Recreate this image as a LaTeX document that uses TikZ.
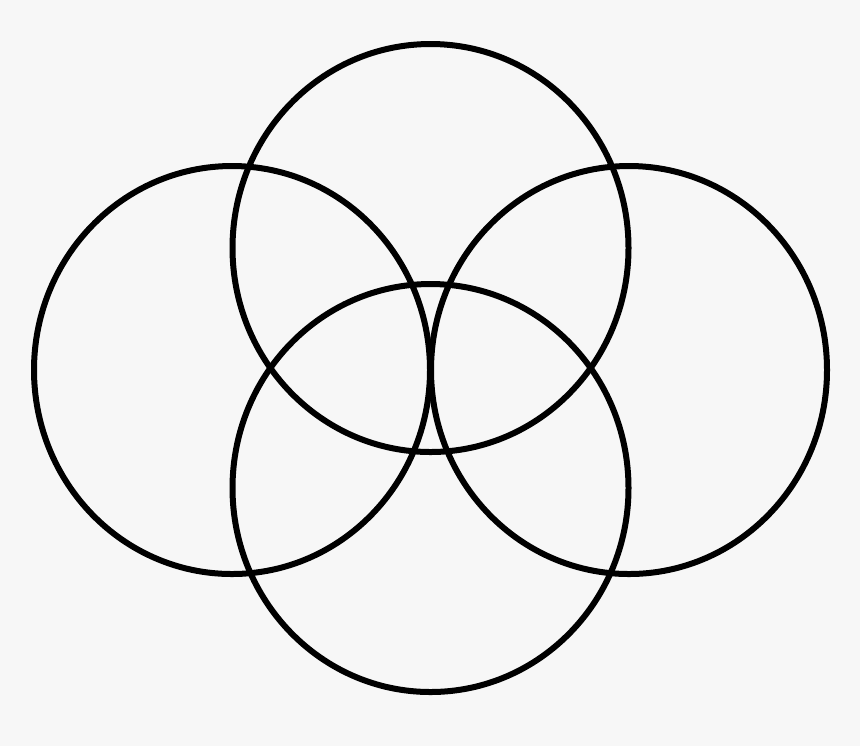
\documentclass[tikz,border=0pt]{standalone}
\definecolor{paper}{HTML}{F7F7F7}
\begin{document}
\begin{tikzpicture}[x=0.5pt,y=-0.5pt,ring/.style={draw=black,line width=3pt}]
	\fill[paper] (0,0) rectangle (860,746);
	\useasboundingbox (0,0) rectangle (860,746);
	\coordinate (T) at (430.5, 248);
	\coordinate (L) at (232,   370);
	\coordinate (R) at (629,   370);
	\coordinate (B) at (430.5, 488);
	\foreach \c in {T,L,R,B}
		\draw[ring] (\c) ellipse [x radius=99pt, y radius=102pt];
\end{tikzpicture}
\end{document}
